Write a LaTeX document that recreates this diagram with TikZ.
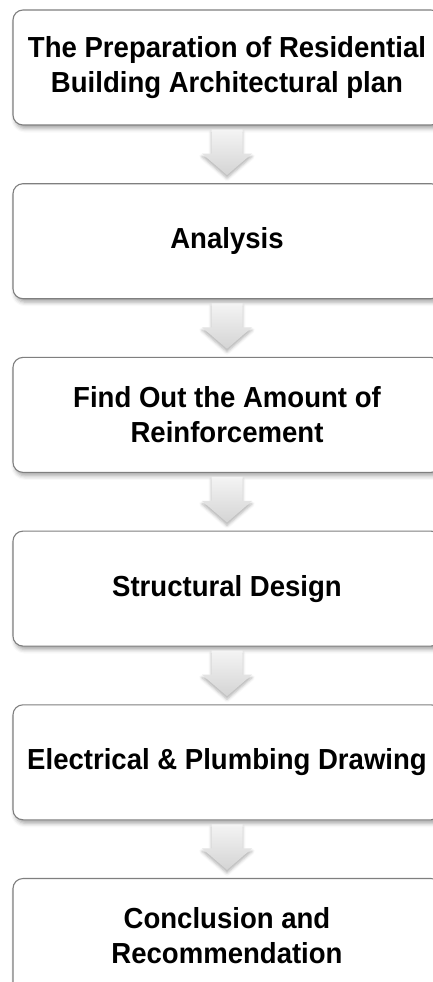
\documentclass[tikz,border=0pt]{standalone}
\usepackage{fontspec}
\setmainfont{Liberation Sans}
\newfontfamily\stagefont{Liberation Sans}[FakeStretch=0.95]
\usepackage{tikz}
\usetikzlibrary{positioning}
\usetikzlibrary{shadows.blur}
\usepackage{xcolor}

\definecolor{boxline}{HTML}{7F7F7F}
\definecolor{arrowtop}{HTML}{F4F4F4}
\definecolor{arrowbottom}{HTML}{D4D4D4}

% down arrow between two stages
\newcommand{\stagearrow}[2]{%
	\path[arrowbody] ([xshift=-15.5pt,yshift=-4pt]#1.south) -- ([xshift=15.5pt,yshift=-4pt]#1.south)
		-- ([xshift=15.5pt,yshift=-28pt]#1.south) -- ([xshift=25pt,yshift=-28pt]#1.south)
		-- ([yshift=8pt]#2.north)
		-- ([xshift=-25pt,yshift=-28pt]#1.south) -- ([xshift=-15.5pt,yshift=-28pt]#1.south) -- cycle;}

\begin{document}
\begin{tikzpicture}[
		node distance=57.6pt,
		stagebox/.style={rectangle, rounded corners=10pt, draw=boxline, line width=1.1pt, fill=white,
			minimum width=428pt, minimum height=115pt, align=center,
			font=\stagefont\bfseries\fontsize{29}{35}\selectfont,
			blur shadow={shadow xshift=2pt, shadow yshift=-3.5pt, shadow opacity=35, shadow blur radius=4pt}},
		arrowbody/.style={top color=arrowtop, bottom color=arrowbottom,
			blur shadow={shadow xshift=0pt, shadow yshift=-3pt, shadow opacity=30, shadow blur radius=3pt}},
		]
		\useasboundingbox (0,0) rectangle (433pt,-982pt);
		\clip (0,0) rectangle (433pt,-982pt);
		
		%Nodes
		\node[stagebox] (plan)       at (227pt,-67.5pt)     {The Preparation of Residential\\Building Architectural plan};
		\node[stagebox] (analysis)   [below=of plan]        {Analysis};
		\node[stagebox] (reinforce)  [below=of analysis]    {Find Out the Amount of\\Reinforcement};
		\node[stagebox] (design)     [below=of reinforce]   {Structural Design};
		\node[stagebox] (drawing)    [below=of design]      {Electrical \& Plumbing Drawing};
		\node[stagebox] (conclusion) [below=of drawing]     {Conclusion and\\Recommendation};
		
		%Arrows
		\stagearrow{plan}{analysis}
		\stagearrow{analysis}{reinforce}
		\stagearrow{reinforce}{design}
		\stagearrow{design}{drawing}
		\stagearrow{drawing}{conclusion}
		
	\end{tikzpicture}
\end{document}
